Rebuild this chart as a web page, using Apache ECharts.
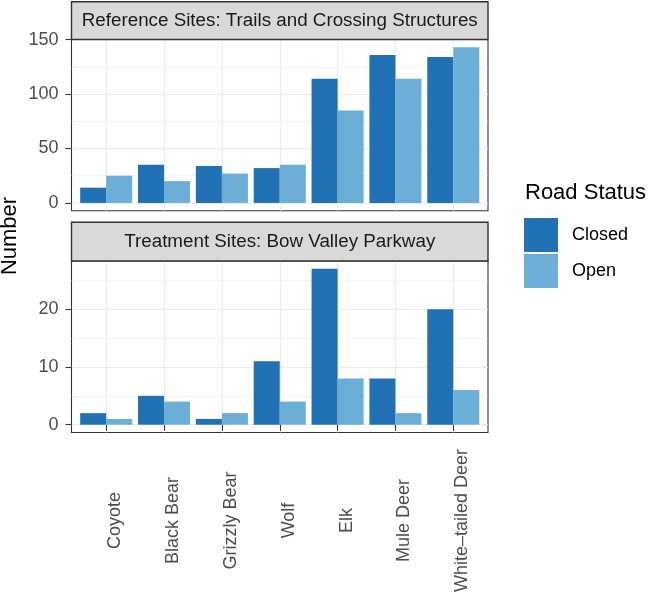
<!DOCTYPE html>
<html>
<head>
<meta charset="utf-8">
<script src="https://cdn.jsdelivr.net/npm/echarts@6/dist/echarts.min.js"></script>
<style>
html,body{margin:0;padding:0;background:#fff;}
#chart{width:651px;height:596px;}
</style>
</head>
<body>
<div id="chart"></div>
<script>
// ---- data ----
const categories = ['Coyote','Black Bear','Grizzly Bear','Wolf','Elk','Mule Deer','White\u2013tailed Deer'];
const statuses = ['Closed','Open'];
const refClosed = [14, 35, 34, 32, 114, 136, 134];
const refOpen   = [25, 20, 27, 35, 85, 114, 143];
const trtClosed = [2, 5, 1, 11, 27, 8, 20];
const trtOpen   = [1, 4, 2, 4, 8, 2, 6];
const panelTitles = ['Reference Sites: Trails and Crossing Structures', 'Treatment Sites: Bow Valley Parkway'];
const refTicks = [0, 50, 100, 150];
const refMinor = [25, 75, 125];
const trtTicks = [0, 10, 20];
const trtMinor = [5, 15, 25];

const colors = {Closed: '#2171B5', Open: '#6BAED6'};
const FONT = 'Liberation Sans, Helvetica, Arial, sans-serif';
const catPos = categories.map((c, i) => i + 1);
function pairs(vals){ return vals.map((v, i) => [catPos[i], v]); }
function expand(maxv){ return [-(maxv*0.05), maxv*1.05]; }

const refRange = expand(Math.max(...refClosed, ...refOpen));
const trtRange = expand(Math.max(...trtClosed, ...trtOpen));

const L = 71.5, W = 416.5;
const panels = [{top: 39.5, height: 171.2, stripTop: 1.7}, {top: 261, height: 171.5, stripTop: 222.3}];

const chart = echarts.init(document.getElementById('chart'), null, {renderer: 'canvas'});

function xAxisDef(gi, showLabels){
  return {
    type: 'value', gridIndex: gi, min: 0.4, max: categories.length + 0.6,
    axisLine: {show: false},
    axisTick: {show: showLabels, customValues: catPos, length: 6, lineStyle: {color: '#333333', width: 1.1}},
    axisLabel: {
      show: showLabels, customValues: catPos, rotate: 90, align: 'center', verticalAlign: 'top',
      margin: 88, fontSize: 18, color: '#4D4D4D', fontFamily: FONT,
      formatter: v => categories[Math.round(v) - 1] || ''
    },
    splitLine: {show: true, lineStyle: {color: '#EBEBEB', width: 1.1}}
  };
}
function yAxisDef(gi, range, ticks){
  return {
    type: 'value', gridIndex: gi, min: range[0], max: range[1],
    axisLine: {show: false},
    axisTick: {show: true, customValues: ticks, length: 6, lineStyle: {color: '#333333', width: 1.1}},
    axisLabel: {customValues: ticks, margin: 13, fontSize: 18, color: '#4D4D4D', fontFamily: FONT},
    splitLine: {show: true, lineStyle: {color: '#EBEBEB', width: 1.1}}
  };
}
function yMinorDef(gi, range, ticks){
  return {
    type: 'value', gridIndex: gi, min: range[0], max: range[1], position: 'right',
    axisLine: {show: false},
    axisTick: {show: false, customValues: ticks},
    axisLabel: {show: false, customValues: ticks},
    splitLine: {show: true, lineStyle: {color: '#EBEBEB', width: 0.55}}
  };
}
function barSeries(name, vals, xi, yi){
  return {
    type: 'bar', name: name, xAxisIndex: xi, yAxisIndex: yi,
    data: pairs(vals), barWidth: '45%', barGap: '0%',
    itemStyle: {color: colors[name]}, emphasis: {disabled: true}, z: 3
  };
}

const graphics = [];
panels.forEach((p, i) => {
  graphics.push({
    type: 'rect', shape: {x: L, y: p.stripTop, width: W, height: p.top - p.stripTop},
    style: {fill: '#D9D9D9', stroke: '#333333', lineWidth: 1.4}, z: 10
  });
  graphics.push({
    type: 'text', x: L + W/2, y: (p.stripTop + p.top)/2 + 0.5,
    style: {text: panelTitles[i], font: '18.8px ' + FONT, fill: '#1A1A1A', textAlign: 'center', textVerticalAlign: 'middle'},
    z: 11
  });
});
graphics.push({
  type: 'text', x: 10, y: 236, rotation: Math.PI/2,
  style: {text: 'Number', font: '22px ' + FONT, fill: '#000', textAlign: 'center', textVerticalAlign: 'middle'},
  z: 11
});

chart.setOption({
  animation: false,
  backgroundColor: '#fff',
  title: {text: 'Road Status', left: 525, top: 182, padding: 0,
    textStyle: {fontSize: 22, fontWeight: 'normal', color: '#000', fontFamily: FONT}},
  legend: {
    data: statuses, orient: 'vertical', left: 524, top: 218, padding: 0,
    itemWidth: 34, itemHeight: 34, itemGap: 2, icon: 'rect',
    textStyle: {fontSize: 18, color: '#000', fontFamily: FONT, padding: [0, 0, 0, 9]},
    selectedMode: false
  },
  grid: panels.map(p => ({left: L, top: p.top, width: W, height: p.height, show: true,
    borderColor: '#333333', borderWidth: 1.1, backgroundColor: '#fff', containLabel: false})),
  xAxis: [xAxisDef(0, false), xAxisDef(1, true)],
  yAxis: [yAxisDef(0, refRange, refTicks), yMinorDef(0, refRange, refMinor),
          yAxisDef(1, trtRange, trtTicks), yMinorDef(1, trtRange, trtMinor)],
  series: [
    barSeries('Closed', refClosed, 0, 0), barSeries('Open', refOpen, 0, 0),
    barSeries('Closed', trtClosed, 1, 2), barSeries('Open', trtOpen, 1, 2)
  ],
  graphic: graphics
});
</script>
</body>
</html>
